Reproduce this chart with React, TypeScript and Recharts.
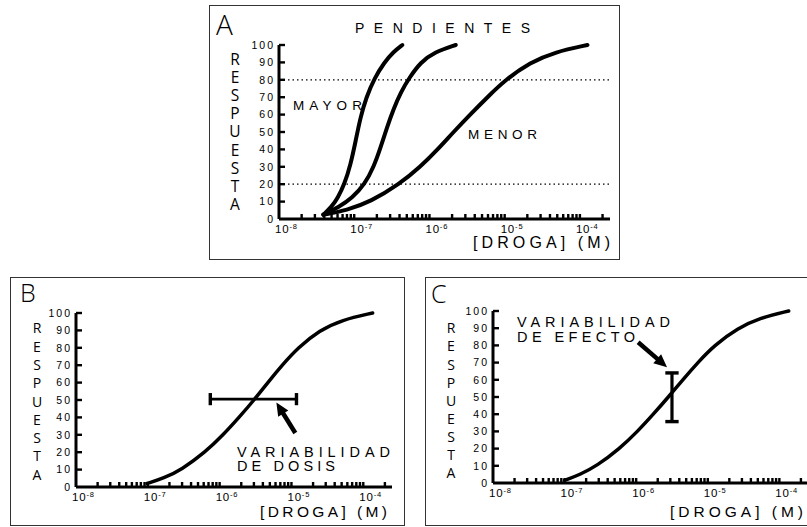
import { LineChart, Line, XAxis, YAxis, ReferenceLine } from 'recharts';

// x = log10([DROGA] en M), y = respuesta (%)
const decades = [-8, -7, -6, -5, -4];
const minorDecades = [-8, -7, -6, -5];
const minorMultiples = [2, 3, 4, 5, 6, 7, 8, 9];
const lastTickMultiple = 2; // 2 x 10^-4
const yTicks = [0, 10, 20, 30, 40, 50, 60, 70, 80, 90, 100];

const xTicks = [
  ...decades,
  ...minorDecades.flatMap((d) => minorMultiples.map((m) => d + Math.log10(m))),
  -4 + Math.log10(lastTickMultiple),
];

// Panel A: pendientes
const curvaMayor = [
  { x: -7.41, y: 2.5 }, { x: -7.3, y: 7 }, { x: -7.22, y: 12 }, { x: -7.13, y: 20 },
  { x: -7.05, y: 31 }, { x: -6.98, y: 45 }, { x: -6.92, y: 58 }, { x: -6.84, y: 70 },
  { x: -6.73, y: 81 }, { x: -6.6, y: 90 }, { x: -6.48, y: 96 }, { x: -6.36, y: 100 },
];
const curvaMedia = [
  { x: -7.41, y: 2.5 }, { x: -7.2, y: 7 }, { x: -7.03, y: 12 }, { x: -6.86, y: 20 },
  { x: -6.74, y: 30 }, { x: -6.65, y: 41 }, { x: -6.57, y: 52 }, { x: -6.48, y: 63 },
  { x: -6.38, y: 73 }, { x: -6.27, y: 81 }, { x: -6.12, y: 90 }, { x: -5.93, y: 96 },
  { x: -5.65, y: 100 },
];
const curvaMenor = [
  { x: -7.41, y: 2.5 }, { x: -7.1, y: 5 }, { x: -6.78, y: 10 }, { x: -6.4, y: 20 },
  { x: -6.12, y: 30 }, { x: -5.89, y: 40 }, { x: -5.68, y: 50 }, { x: -5.46, y: 60 },
  { x: -5.23, y: 70 }, { x: -4.99, y: 80 }, { x: -4.66, y: 90 }, { x: -4.33, y: 96 },
  { x: -3.9, y: 100 },
];

// Panel B: variabilidad de dosis
const curvaB = [
  { x: -7.01, y: 2 }, { x: -6.78, y: 5 }, { x: -6.53, y: 10 }, { x: -6.2, y: 20 },
  { x: -5.95, y: 30 }, { x: -5.73, y: 40 }, { x: -5.52, y: 50 }, { x: -5.33, y: 60 },
  { x: -5.13, y: 70 }, { x: -4.91, y: 80 }, { x: -4.61, y: 90 }, { x: -4.3, y: 96 },
  { x: -3.87, y: 100 },
];
const barraDosis = { desde: -6.13, hasta: -4.93, y: 50.5, cap: 3.5 };
const flechaB = { cola: { x: -4.946, y: 31 }, punta: { x: -5.21, y: 48.5 } };

// Panel C: variabilidad de efecto
const curvaC = [
  { x: -7.0, y: 1.5 }, { x: -6.78, y: 5 }, { x: -6.55, y: 10 }, { x: -6.23, y: 20 },
  { x: -5.98, y: 30 }, { x: -5.76, y: 40 }, { x: -5.55, y: 50 }, { x: -5.35, y: 60 },
  { x: -5.14, y: 70 }, { x: -4.91, y: 80 }, { x: -4.58, y: 90 }, { x: -4.27, y: 96 },
  { x: -3.87, y: 100 },
];
const barraEfecto = { x: -5.5, desde: 35.7, hasta: 64, cap: 0.093 };
const flechaC = { cola: { x: -5.973, y: 81.8 }, punta: { x: -5.569, y: 67.3 } };

const FONT = '"Liberation Sans", Arial, sans-serif';
const LIGHT = '"Open Sans", "Liberation Sans", sans-serif';

function XTick(props: any) {
  const { x, y, payload } = props;
  const v = payload.value;
  const dec = decades.find((d) => Math.abs(d - v) < 1e-9);
  return (
    <g>
      {v > -8 + 1e-6 && <line x1={x} y1={y} x2={x} y2={y - 5} stroke="#000" strokeWidth={2.4} />}
      {dec !== undefined && (
        <text x={x - 4} y={y + 14} fontSize={11.5} fontFamily={FONT} letterSpacing={0.8} fill="#000">
          10
          <tspan fontSize={7.5} dy={-4.5}>
            {dec}
          </tspan>
        </text>
      )}
    </g>
  );
}

function YTick(props: any) {
  const { x, y, payload } = props;
  return (
    <g>
      {payload.value > 0 && <line x1={x} y1={y} x2={x + 6} y2={y} stroke="#000" strokeWidth={2.4} />}
      <text x={x - 4} y={y} dy="0.36em" textAnchor="end" fontSize={10.5} fontFamily={FONT} letterSpacing={2} fill="#000">
        {payload.value}
      </text>
    </g>
  );
}

function Arrow(props: any) {
  const { x1, y1, x2, y2 } = props;
  const dx = x2 - x1;
  const dy = y2 - y1;
  const len = Math.hypot(dx, dy) || 1;
  const ux = dx / len;
  const uy = dy / len;
  const head = 13;
  const half = 6;
  const bx = x2 - ux * head;
  const by = y2 - uy * head;
  return (
    <g>
      <line x1={x1} y1={y1} x2={bx + ux} y2={by + uy} stroke="#000" strokeWidth={4.5} />
      <polygon
        points={`${x2},${y2} ${bx - uy * half},${by + ux * half} ${bx + uy * half},${by - ux * half}`}
        fill="#000"
      />
    </g>
  );
}

type ChartProps = {
  left: number;
  top: number;
  width: number;
  height: number;
  yWidth: number;
  xHeight: number;
  margin: { top: number; right: number; left: number; bottom: number };
  series: { x: number; y: number }[][];
  lineWidth: number;
  children?: any;
};

function DoseChart({ left, top, width, height, yWidth, xHeight, margin, series, lineWidth, children }: ChartProps) {
  return (
    <div style={{ position: 'absolute', left, top, width, height }}>
      <LineChart width={width} height={height} margin={margin}>
        <XAxis
          type="number"
          dataKey="x"
          domain={[-8, -3.6]}
          ticks={xTicks}
          interval={0}
          height={xHeight}
          tickSize={0}
          tickMargin={0}
          tick={<XTick />}
          axisLine={{ stroke: '#000', strokeWidth: 3 }}
          allowDataOverflow
        />
        <YAxis
          type="number"
          domain={[0, 100]}
          ticks={yTicks}
          interval={0}
          width={yWidth}
          tickSize={0}
          tickMargin={0}
          tick={<YTick />}
          axisLine={{ stroke: '#000', strokeWidth: 3 }}
        />
        {children}
        {series.map((s, i) => (
          <Line
            key={i}
            data={s}
            dataKey="y"
            type="basis"
            dot={false}
            activeDot={false}
            stroke="#000"
            strokeWidth={lineWidth}
            strokeLinecap="round"
            isAnimationActive={false}
          />
        ))}
      </LineChart>
    </div>
  );
}

const RESP = 'RESPUESTA'.split('');

function Vertical({ x, y0, step, size }: { x: number; y0: number; step: number; size: number }) {
  return (
    <>
      {RESP.map((c, i) => (
        <text key={i} x={x} y={y0 + i * step} textAnchor="middle" fontSize={size} fontFamily={LIGHT} fill="#000">
          {c}
        </text>
      ))}
    </>
  );
}

function Spaced({ x, y, len, size, children }: any) {
  return (
    <text x={x} y={y} fontSize={size} fontFamily={FONT} textLength={len} lengthAdjust="spacing" fill="#000">
      {children}
    </text>
  );
}

export default function App() {
  const border = '1px solid #333';
  return (
    <div
      style={{
        position: 'absolute',
        left: 0,
        top: 0,
        width: 807,
        height: 527,
        overflow: 'hidden',
        background: '#fff',
      }}
    >
      <div style={{ position: 'absolute', left: 209, top: 5, width: 409, height: 253, border }} />
      <div style={{ position: 'absolute', left: 10, top: 277, width: 393, height: 247, border }} />
      <div style={{ position: 'absolute', left: 425, top: 277, width: 399, height: 247, border }} />

      <DoseChart
        left={209}
        top={5}
        width={410}
        height={254}
        yWidth={70}
        xHeight={40}
        margin={{ top: 40, right: 9, left: 0, bottom: 0 }}
        series={[curvaMayor, curvaMedia, curvaMenor]}
        lineWidth={4}
      >
        <ReferenceLine y={80} stroke="#000" strokeWidth={1.2} strokeDasharray="1.5 3" />
        <ReferenceLine y={20} stroke="#000" strokeWidth={1.2} strokeDasharray="1.5 3" />
      </DoseChart>

      <DoseChart
        left={10}
        top={277}
        width={394}
        height={248}
        yWidth={66}
        xHeight={38}
        margin={{ top: 36, right: 12, left: 0, bottom: 0 }}
        series={[curvaB]}
        lineWidth={3.5}
      >
        <ReferenceLine
          segment={[{ x: barraDosis.desde, y: barraDosis.y }, { x: barraDosis.hasta, y: barraDosis.y }]}
          stroke="#000"
          strokeWidth={2.8}
        />
        <ReferenceLine
          segment={[
            { x: barraDosis.desde, y: barraDosis.y - barraDosis.cap },
            { x: barraDosis.desde, y: barraDosis.y + barraDosis.cap },
          ]}
          stroke="#000"
          strokeWidth={3.4}
        />
        <ReferenceLine
          segment={[
            { x: barraDosis.hasta, y: barraDosis.y - barraDosis.cap },
            { x: barraDosis.hasta, y: barraDosis.y + barraDosis.cap },
          ]}
          stroke="#000"
          strokeWidth={3.4}
        />
        <ReferenceLine segment={[flechaB.cola, flechaB.punta]} shape={(p: any) => <Arrow {...p} />} />
      </DoseChart>

      <DoseChart
        left={425}
        top={277}
        width={400}
        height={248}
        yWidth={68}
        xHeight={42}
        margin={{ top: 34, right: 17, left: 0, bottom: 0 }}
        series={[curvaC]}
        lineWidth={3.5}
      >
        <ReferenceLine
          segment={[{ x: barraEfecto.x, y: barraEfecto.desde }, { x: barraEfecto.x, y: barraEfecto.hasta }]}
          stroke="#000"
          strokeWidth={3.2}
        />
        <ReferenceLine
          segment={[
            { x: barraEfecto.x - barraEfecto.cap, y: barraEfecto.desde },
            { x: barraEfecto.x + barraEfecto.cap, y: barraEfecto.desde },
          ]}
          stroke="#000"
          strokeWidth={3.4}
        />
        <ReferenceLine
          segment={[
            { x: barraEfecto.x - barraEfecto.cap, y: barraEfecto.hasta },
            { x: barraEfecto.x + barraEfecto.cap, y: barraEfecto.hasta },
          ]}
          stroke="#000"
          strokeWidth={3.4}
        />
        <ReferenceLine segment={[flechaC.cola, flechaC.punta]} shape={(p: any) => <Arrow {...p} />} />
      </DoseChart>

      <svg width={807} height={527} style={{ position: 'absolute', left: 0, top: 0, pointerEvents: 'none' }}>
        {/* A */}
        <text x={216} y={35} fontSize={28} fontFamily={LIGHT} fontWeight={300} fill="#000">A</text>
        <Spaced x={355} y={33} len={175} size={14}>PENDIENTES</Spaced>
        <Vertical x={235} y0={65} step={18.1} size={15.5} />
        <Spaced x={293} y={109.5} len={69} size={13.5}>MAYOR</Spaced>
        <Spaced x={468} y={138.5} len={69} size={13.5}>MENOR</Spaced>
        <Spaced x={473} y={248} len={137} size={16}>[DROGA] (M)</Spaced>

        {/* B */}
        <text x={20} y={302} fontSize={25} fontFamily={LIGHT} fontWeight={300} fill="#000">B</text>
        <Vertical x={37} y0={333.3} step={18.3} size={14} />
        <Spaced x={237} y={457} len={153} size={14.5}>VARIABILIDAD</Spaced>
        <Spaced x={237} y={471} len={98} size={14.5}>DE DOSIS</Spaced>
        <Spaced x={260} y={517} len={127} size={15.5}>[DROGA] (M)</Spaced>

        {/* C */}
        <text x={431} y={303} fontSize={25} fontFamily={LIGHT} fontWeight={300} fill="#000">C</text>
        <Vertical x={451} y0={333.3} step={18.1} size={14} />
        <Spaced x={517} y={327} len={153} size={14.5}>VARIABILIDAD</Spaced>
        <Spaced x={517} y={342} len={118} size={14.5}>DE EFECTO</Spaced>
        <Spaced x={670} y={517} len={133} size={15.5}>[DROGA] (M)</Spaced>
      </svg>
    </div>
  );
}
